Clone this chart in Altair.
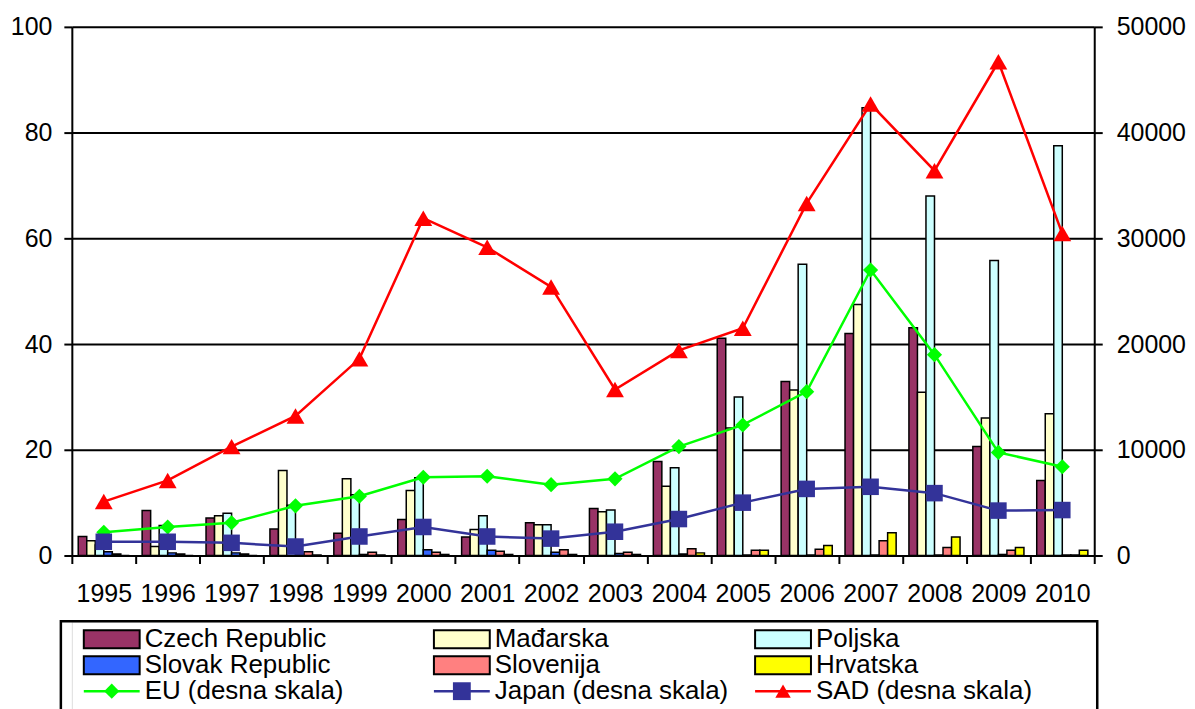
import altair as alt
import pandas as pd

# ---------------- data ----------------
years = [str(y) for y in range(1995, 2011)]

bar_series = ["Czech Republic", "Mađarska", "Poljska", "Slovak Republic", "Slovenija", "Hrvatska"]
bar_colors = ["#993366", "#FFFFCC", "#CCFFFF", "#3366FF", "#FF8080", "#FFFF00"]

czech = [3.6, 8.5, 7.1, 5.0, 4.2, 6.8, 3.5, 6.2, 8.9, 17.8, 41.1, 32.9, 42.0, 43.1, 20.6, 14.2]
madarska = [2.8, 1.7, 7.5, 16.1, 14.5, 12.3, 4.9, 5.8, 8.3, 13.1, 24.1, 31.3, 47.5, 30.9, 26.0, 26.8]
poljska = [2.0, 5.7, 8.0, 9.5, 11.5, 14.7, 7.5, 5.8, 8.6, 16.6, 30.0, 55.1, 84.7, 68.0, 55.8, 77.5]
slovak = [0.7, 0.5, 0.5, 0.3, 0.2, 1.1, 1.0, 0.6, 0.4, 0.3, 0.1, 0.1, 0.1, 0.1, 0.2, 0.1]
slovenija = [0.3, 0.3, 0.3, 0.7, 0.6, 0.6, 0.8, 1.1, 0.6, 1.3, 1.0, 1.2, 2.8, 1.5, 1.0, 0.1]
hrvatska = [0.0, 0.0, 0.0, 0.1, 0.1, 0.2, 0.2, 0.2, 0.2, 0.5, 1.0, 1.9, 4.3, 3.5, 1.5, 1.0]

line_series = ["EU (desna skala)", "Japan (desna skala)", "SAD (desna skala)"]
line_colors = ["#00FF00", "#333399", "#FF0000"]
line_shapes = ["diamond", "square", "triangle-up"]
line_sizes = [230, 320, 240]

eu = [2200, 2700, 3100, 4700, 5600, 7400, 7500, 6700, 7250, 10300, 12350, 15500, 27000, 19000, 9750, 8400]
japan = [1300, 1300, 1200, 850, 1800, 2700, 1800, 1600, 2250, 3450, 5000, 6300, 6500, 5900, 4250, 4300]
sad = [5100, 7100, 10300, 13200, 18600, 31900, 29150, 25400, 15700, 19400, 21500, 33300, 42700, 36400, 46700, 30450]

left_ticks = [0, 20, 40, 60, 80, 100]
right_ticks = [0, 10000, 20000, 30000, 40000, 50000]

# legend layout (legend panel units, origin = plot area's left edge)
legend_cols = [12, 363, 685]
legend_rows = [18, 44, 70]
legend_box = [-11, 1028, 0, 100]

FONT = "Liberation Sans"

# ---------------- tables ----------------
bar_values = [czech, madarska, poljska, slovak, slovenija, hrvatska]
bars_df = pd.DataFrame(
    [{"year": y, "series": s, "value": v}
     for s, vals in zip(bar_series, bar_values) for y, v in zip(years, vals)]
)
line_values = [eu, japan, sad]
lines_df = pd.DataFrame(
    [{"year": y, "series": s, "value": v}
     for s, vals in zip(line_series, line_values) for y, v in zip(years, vals)]
)

x_enc = alt.X(
    "year:N", sort=years,
    scale=alt.Scale(paddingInner=0, paddingOuter=0),
    axis=alt.Axis(title=None, labelAngle=0, tickBand="extent", labelFontSize=25,
                  labelPadding=18, tickSize=8, tickWidth=2, tickColor="black",
                  domainColor="black", domainWidth=2, labelColor="black", labelFont=FONT),
)

bars = alt.Chart(bars_df).mark_bar(stroke="black", strokeWidth=1.5).encode(
    x=x_enc,
    xOffset=alt.XOffset("series:N", sort=bar_series,
                        scale=alt.Scale(paddingInner=0, paddingOuter=0.75)),
    y=alt.Y("value:Q", scale=alt.Scale(domain=[0, 100], nice=False),
            axis=alt.Axis(title=None, values=left_ticks, grid=True, gridColor="black",
                          gridWidth=2, gridOpacity=1, labelFontSize=25, labelPadding=12,
                          tickSize=8, tickWidth=2, tickColor="black", domainColor="black",
                          domainWidth=2, labelColor="black", labelFont=FONT)),
    fill=alt.Fill("series:N", scale=alt.Scale(domain=bar_series, range=bar_colors), legend=None),
)

y_right = alt.Y("value:Q", scale=alt.Scale(domain=[0, 50000], nice=False),
                axis=alt.Axis(title=None, orient="right", values=right_ticks, grid=False,
                              format="d", labelFontSize=25, labelPadding=14, tickSize=8,
                              tickWidth=2, tickColor="black", domainColor="black",
                              domainWidth=2, labelColor="black", labelFont=FONT))

lines = alt.Chart(lines_df).mark_line(strokeWidth=2.5).encode(
    x=x_enc,
    y=y_right,
    stroke=alt.Stroke("series:N", scale=alt.Scale(domain=line_series, range=line_colors), legend=None),
)

points = alt.Chart(lines_df).mark_point(filled=True, opacity=1).encode(
    x=x_enc,
    y=alt.Y("value:Q", scale=alt.Scale(domain=[0, 50000], nice=False), axis=None),
    color=alt.Color("series:N", scale=alt.Scale(domain=line_series, range=line_colors), legend=None),
    shape=alt.Shape("series:N", scale=alt.Scale(domain=line_series, range=line_shapes), legend=None),
    size=alt.Size("series:N", scale=alt.Scale(domain=line_series, range=line_sizes), legend=None),
)

top = alt.layer(bars, lines, points).resolve_scale(y="independent").properties(width=1025, height=530)

# ---------------- legend panel ----------------
entries = []
for i, (s, c) in enumerate(zip(bar_series, bar_colors)):
    col, row = i % 3, i // 3
    x0 = legend_cols[col]
    entries.append({"label": s, "kind": "bar", "color": c, "shape": "square", "size": 0,
                    "x0": x0, "x1": x0 + 56, "xm": x0 + 28, "xt": x0 + 61,
                    "y": legend_rows[row], "y0": legend_rows[row] - 9, "y1": legend_rows[row] + 9})
for i, (s, c, sh, sz) in enumerate(zip(line_series, line_colors, line_shapes, line_sizes)):
    x0 = legend_cols[i]
    entries.append({"label": s, "kind": "line", "color": c, "shape": sh, "size": sz,
                    "x0": x0, "x1": x0 + 56, "xm": x0 + 28, "xt": x0 + 61,
                    "y": legend_rows[2], "y0": legend_rows[2] - 9, "y1": legend_rows[2] + 9})
leg_df = pd.DataFrame(entries)
LW, LH = 1028, 100
lx = lambda f: alt.X(f, scale=alt.Scale(domain=[0, LW], nice=False, zero=False), axis=None)
ly = lambda f: alt.Y(f, scale=alt.Scale(domain=[0, LH], nice=False, zero=False, reverse=True), axis=None)

box_df = pd.DataFrame([{"bx0": legend_box[0], "bx1": legend_box[1], "by0": legend_box[2], "by1": legend_box[3]}])
box = alt.Chart(box_df).mark_rect(fillOpacity=0, stroke="black", strokeWidth=2.5).encode(
    x=lx("bx0:Q"), x2="bx1:Q", y=ly("by0:Q"), y2="by1:Q")

sw = alt.Chart(leg_df).transform_filter("datum.kind == 'bar'").mark_rect(
    stroke="black", strokeWidth=2).encode(
    x=lx("x0:Q"), x2="x1:Q", y=ly("y0:Q"), y2="y1:Q",
    fill=alt.Fill("color:N", scale=None))

lr = alt.Chart(leg_df).transform_filter("datum.kind == 'line'").mark_rule(strokeWidth=2.5).encode(
    x=lx("x0:Q"), x2="x1:Q", y=ly("y:Q"),
    color=alt.Color("color:N", scale=None))

lp = alt.Chart(leg_df).transform_filter("datum.kind == 'line'").mark_point(filled=True, opacity=1).encode(
    x=lx("xm:Q"), y=ly("y:Q"),
    color=alt.Color("color:N", scale=None),
    shape=alt.Shape("shape:N", scale=None),
    size=alt.Size("size:Q", scale=None))

lt = alt.Chart(leg_df).mark_text(align="left", baseline="middle", fontSize=26, font=FONT,
                                 color="black").encode(
    x=lx("xt:Q"), y=ly("y:Q"), text="label:N")

legend = alt.layer(box, sw, lr, lp, lt).properties(width=LW, height=LH)

chart = alt.vconcat(top, legend, spacing=12).configure_view(stroke=None).configure(
    font=FONT, background="white").properties(
    padding={"left": 1, "top": 5, "right": 0, "bottom": 0})

chart.save("out.html", embed_options={"renderer": "svg", "actions": False})
